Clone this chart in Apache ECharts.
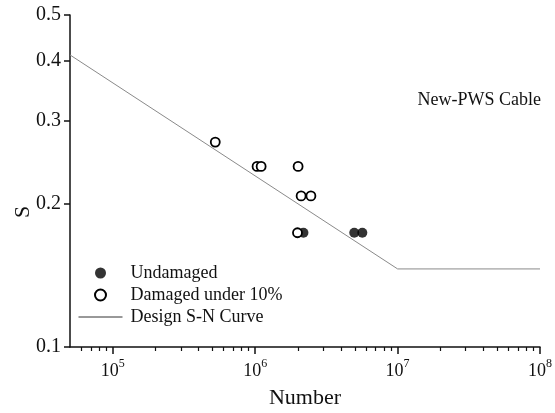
<!DOCTYPE html>
<html><head><meta charset="utf-8">
<script src="https://cdn.jsdelivr.net/npm/echarts@6/dist/echarts.min.js"></script>
<style>html,body{margin:0;padding:0;background:#fff}#c{width:555px;height:413px}</style>
</head><body><div id="c"></div>
<script>
const undamagedN = [2.18e6, 4.96e6, 5.65e6];
const undamagedS = [0.174, 0.174, 0.174];
const damagedN = [5.24e5, 1.03e6, 1.10e6, 2.0e6, 2.10e6, 2.46e6, 1.98e6];
const damagedS = [0.270, 0.240, 0.240, 0.240, 0.208, 0.208, 0.174];
const curveN = [5e4, 1e7, 1e8];
const curveS = [0.412, 0.146, 0.146];
const xMajorTicks = [1e5, 1e6, 1e7, 1e8];
const xMinorTicks = [6e4, 7e4, 8e4, 9e4,
  2e5, 3e5, 4e5, 5e5, 6e5, 7e5, 8e5, 9e5,
  2e6, 3e6, 4e6, 5e6, 6e6, 7e6, 8e6, 9e6,
  2e7, 3e7, 4e7, 5e7, 6e7, 7e7, 8e7, 9e7];
const yTicks = [0.1, 0.2, 0.3, 0.4, 0.5];
const seriesNames = ['Undamaged', 'Damaged under 10%', 'Design S-N Curve'];

const FONT = '"Liberation Serif", "DejaVu Serif", serif';
const zip = (a, b) => a.map((v, i) => [v, b[i]]);

const chart = echarts.init(document.getElementById('c'), null, {renderer: 'canvas'});
chart.setOption({
  backgroundColor: '#fff',
  animation: false,
  title: {
    text: 'New-PWS Cable', right: 14, top: 91, padding: 0,
    textStyle: {fontFamily: FONT, fontSize: 18, fontWeight: 'normal', color: '#111'}
  },
  grid: {left: 70, right: 15, top: 15, bottom: 66, containLabel: false, outerBoundsMode: 'none'},
  legend: {
    orient: 'vertical', left: 78, top: 264, padding: 0, itemWidth: 44, itemHeight: 11, itemGap: 4,
    textStyle: {fontFamily: FONT, fontSize: 18, color: '#111', lineHeight: 18, padding: [0, 0, 0, 3]},
    data: [
      {name: seriesNames[0]},
      {name: seriesNames[1]},
      {name: seriesNames[2], lineStyle: {color: '#333', width: 1},
       itemStyle: {color: 'rgba(0,0,0,0)', borderColor: 'rgba(0,0,0,0)', borderWidth: 0, opacity: 0}}
    ]
  },
  xAxis: [{
    type: 'log', logBase: 10, min: 5e4, max: 1e8,
    name: 'Number', nameLocation: 'middle', nameGap: 40,
    nameTextStyle: {fontFamily: FONT, fontSize: 22, color: '#111'},
    axisLine: {lineStyle: {color: '#111', width: 1.5}},
    axisTick: {show: true, inside: false, length: 7, customValues: xMajorTicks, lineStyle: {color: '#111', width: 1.5}},
    axisLabel: {
      customValues: xMajorTicks, margin: 11,
      formatter: v => '{b|10}{s|' + Math.round(Math.log10(v)) + '}',
      rich: {
        b: {fontFamily: FONT, fontSize: 18, color: '#111', lineHeight: 22, verticalAlign: 'bottom'},
        s: {fontFamily: FONT, fontSize: 12, color: '#111', lineHeight: 12, verticalAlign: 'top'}
      }
    },
    splitLine: {show: false}
  }, {
    type: 'log', logBase: 10, min: 5e4, max: 1e8, position: 'bottom',
    axisLine: {show: false},
    axisTick: {show: true, length: 4, customValues: xMinorTicks, lineStyle: {color: '#111', width: 1.2}},
    axisLabel: {show: false},
    splitLine: {show: false}
  }],
  yAxis: {
    type: 'log', logBase: 10, min: 0.1, max: 0.5,
    name: 'S', nameLocation: 'middle', nameGap: 36, nameMoveOverlap: false,
    nameTextStyle: {fontFamily: FONT, fontSize: 22, color: '#111', padding: [0, 62, 0, 0]},
    axisLine: {lineStyle: {color: '#111', width: 1.5}},
    axisTick: {show: true, length: 6, customValues: yTicks, lineStyle: {color: '#111', width: 1.5}},
    axisLabel: {
      customValues: yTicks, margin: 9,
      formatter: v => Number(v).toFixed(1),
      fontFamily: FONT, fontSize: 20, color: '#111'
    },
    splitLine: {show: false}
  },
  series: [{
    name: seriesNames[2], type: 'line', xAxisIndex: 0,
    data: zip(curveN, curveS), symbol: 'none',
    lineStyle: {color: '#8a8a8a', width: 1}, itemStyle: {color: '#333'}, z: 1
  }, {
    name: seriesNames[0], type: 'scatter', xAxisIndex: 0,
    data: zip(undamagedN, undamagedS), symbol: 'circle', symbolSize: 10,
    itemStyle: {color: '#000'}, z: 2
  }, {
    name: seriesNames[1], type: 'scatter', xAxisIndex: 0,
    data: zip(damagedN, damagedS), symbol: 'circle', symbolSize: 9,
    itemStyle: {color: '#fff', borderColor: '#000', borderWidth: 1.8, opacity: 1}, z: 3
  }]
});
</script></body></html>
